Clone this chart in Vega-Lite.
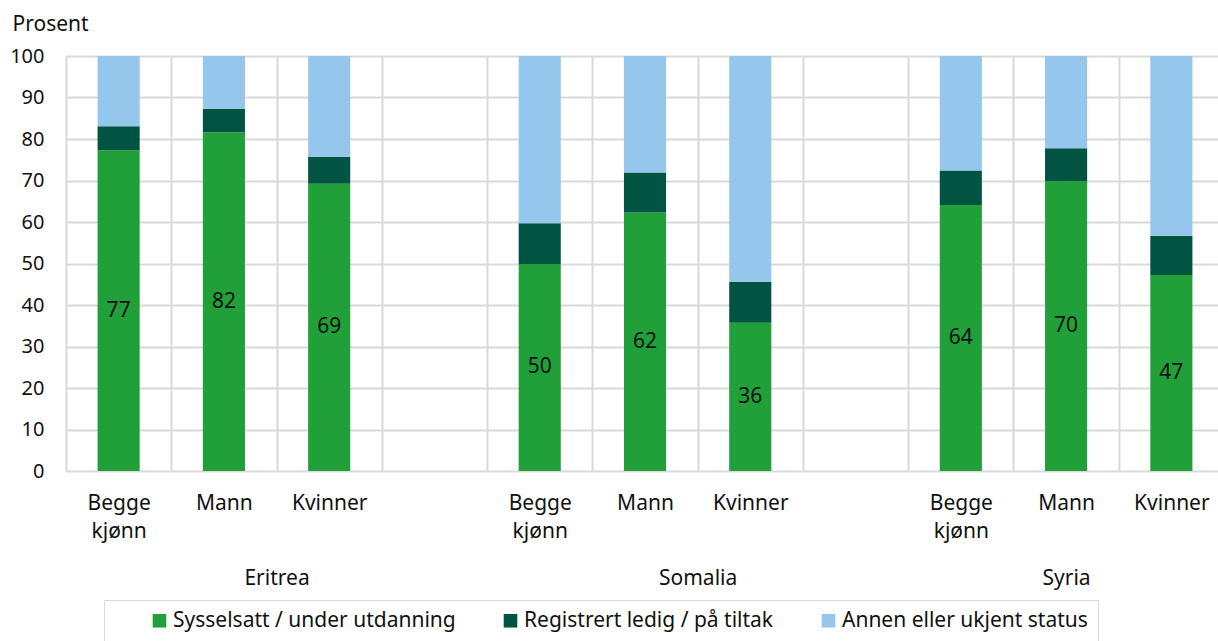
{
  "$schema": "https://vega.github.io/schema/vega-lite/v6.json",
  "width": 1152,
  "height": 415,
  "autosize": {"type": "none"},
  "padding": {"left": 66, "top": 56, "right": 0, "bottom": 170},
  "config": {
    "view": {"stroke": null},
    "font": "Noto Sans"
  },
  "data": {
    "values": [
      {"kategori": "Eritrea|Begge kjønn", "status": "Sysselsatt / under utdanning", "value": 77.3},
      {"kategori": "Eritrea|Begge kjønn", "status": "Registrert ledig / på tiltak", "value": 5.8},
      {"kategori": "Eritrea|Begge kjønn", "status": "Annen eller ukjent status", "value": 16.9},
      {"kategori": "Eritrea|Mann", "status": "Sysselsatt / under utdanning", "value": 81.6},
      {"kategori": "Eritrea|Mann", "status": "Registrert ledig / på tiltak", "value": 5.6},
      {"kategori": "Eritrea|Mann", "status": "Annen eller ukjent status", "value": 12.8},
      {"kategori": "Eritrea|Kvinner", "status": "Sysselsatt / under utdanning", "value": 69.2},
      {"kategori": "Eritrea|Kvinner", "status": "Registrert ledig / på tiltak", "value": 6.5},
      {"kategori": "Eritrea|Kvinner", "status": "Annen eller ukjent status", "value": 24.3},
      {"kategori": "Somalia|Begge kjønn", "status": "Sysselsatt / under utdanning", "value": 49.9},
      {"kategori": "Somalia|Begge kjønn", "status": "Registrert ledig / på tiltak", "value": 9.8},
      {"kategori": "Somalia|Begge kjønn", "status": "Annen eller ukjent status", "value": 40.3},
      {"kategori": "Somalia|Mann", "status": "Sysselsatt / under utdanning", "value": 62.3},
      {"kategori": "Somalia|Mann", "status": "Registrert ledig / på tiltak", "value": 9.6},
      {"kategori": "Somalia|Mann", "status": "Annen eller ukjent status", "value": 28.1},
      {"kategori": "Somalia|Kvinner", "status": "Sysselsatt / under utdanning", "value": 35.7},
      {"kategori": "Somalia|Kvinner", "status": "Registrert ledig / på tiltak", "value": 9.9},
      {"kategori": "Somalia|Kvinner", "status": "Annen eller ukjent status", "value": 54.4},
      {"kategori": "Syria|Begge kjønn", "status": "Sysselsatt / under utdanning", "value": 64.1},
      {"kategori": "Syria|Begge kjønn", "status": "Registrert ledig / på tiltak", "value": 8.3},
      {"kategori": "Syria|Begge kjønn", "status": "Annen eller ukjent status", "value": 27.6},
      {"kategori": "Syria|Mann", "status": "Sysselsatt / under utdanning", "value": 69.9},
      {"kategori": "Syria|Mann", "status": "Registrert ledig / på tiltak", "value": 7.9},
      {"kategori": "Syria|Mann", "status": "Annen eller ukjent status", "value": 22.2},
      {"kategori": "Syria|Kvinner", "status": "Sysselsatt / under utdanning", "value": 47.2},
      {"kategori": "Syria|Kvinner", "status": "Registrert ledig / på tiltak", "value": 9.5},
      {"kategori": "Syria|Kvinner", "status": "Annen eller ukjent status", "value": 43.3}
    ]
  },
  "layer": [
    {
      "mark": {"type": "bar"},
      "encoding": {
        "x": {
          "field": "kategori",
          "type": "nominal",
          "sort": null,
          "scale": {
            "domain": ["Eritrea|Begge kjønn", "Eritrea|Mann", "Eritrea|Kvinner", "gap1", "Somalia|Begge kjønn", "Somalia|Mann", "Somalia|Kvinner", "gap2", "Syria|Begge kjønn", "Syria|Mann", "Syria|Kvinner"],
            "range": [0, 1158],
            "paddingInner": 0.6,
            "paddingOuter": 0.3
          },
          "axis": {
            "orient": "bottom",
            "title": null,
            "bandPosition": 0,
            "tickOffset": -31.58,
            "labelOffset": 31.58,
            "grid": true,
            "gridColor": "#d9d9d9",
            "gridWidth": 2,
            "ticks": false,
            "domain": false,
            "labelAngle": 0,
            "labelExpr": "indexof(datum.value, 'gap') >= 0 ? '' : indexof(datum.value, 'Begge') >= 0 ? ['Begge', 'kjønn'] : split(datum.value, '|')[1]",
            "labelFontSize": 21,
            "labelColor": "#111111",
            "labelPadding": 21,
            "labelBaseline": "top",
            "labelLineHeight": 28,
            "labelOverlap": false,
            "labelBound": false
          }
        },
        "y": {
          "field": "value",
          "type": "quantitative",
          "stack": "zero",
          "scale": {"domain": [0, 100], "nice": false},
          "axis": {
            "values": [0, 10, 20, 30, 40, 50, 60, 70, 80, 90, 100],
            "title": "Prosent",
            "titleAngle": 0,
            "titleX": -54,
            "titleY": -32,
            "titleAlign": "left",
            "titleBaseline": "middle",
            "titleFontWeight": "normal",
            "titleFontSize": 21,
            "titleColor": "#111111",
            "grid": true,
            "gridColor": "#d9d9d9",
            "gridWidth": 2,
            "domain": false,
            "ticks": false,
            "labelPadding": 22,
            "labelFontSize": 20,
            "labelColor": "#111111"
          }
        },
        "color": {
          "field": "status",
          "type": "nominal",
          "scale": {
            "domain": ["Sysselsatt / under utdanning", "Registrert ledig / på tiltak", "Annen eller ukjent status"],
            "range": ["#21a039", "#005441", "#95c6eb"]
          },
          "legend": {
            "orient": "none",
            "legendX": 38,
            "legendY": 544,
            "direction": "horizontal",
            "title": null,
            "symbolType": "square",
            "symbolSize": 185,
            "symbolStrokeWidth": 0,
            "symbolOpacity": 1,
            "symbolOffset": 35,
            "labelFontSize": 21,
            "labelColor": "#111111",
            "labelOffset": 3,
            "labelLimit": 600,
            "strokeColor": "#d9d9d9",
            "padding": 10,
            "columnPadding": 9
          }
        },
        "order": {"field": "status", "sort": "descending"}
      }
    },
    {
      "transform": [{"filter": "datum.status == 'Sysselsatt / under utdanning'"}],
      "mark": {"type": "text", "fontSize": 21, "color": "#111111", "baseline": "middle", "align": "center"},
      "encoding": {
        "x": {
          "field": "kategori",
          "type": "nominal",
          "sort": null,
          "scale": {
            "domain": ["Eritrea|Begge kjønn", "Eritrea|Mann", "Eritrea|Kvinner", "gap1", "Somalia|Begge kjønn", "Somalia|Mann", "Somalia|Kvinner", "gap2", "Syria|Begge kjønn", "Syria|Mann", "Syria|Kvinner"],
            "range": [0, 1158],
            "paddingInner": 0.6,
            "paddingOuter": 0.3
          },
          "axis": {
            "orient": "bottom",
            "title": null,
            "values": ["Eritrea|Kvinner", "Somalia|Kvinner", "Syria|Mann"],
            "labelExpr": "split(datum.value, '|')[0]",
            "bandPosition": 0,
            "tickOffset": -31.58,
            "labelOffset": {"condition": {"test": "indexof(datum.value, 'Syria') >= 0", "value": 31.58}, "value": -21.05},
            "grid": false,
            "ticks": false,
            "domain": false,
            "labelAngle": 0,
            "labelPadding": 96,
            "labelBaseline": "top",
            "labelFontSize": 21,
            "labelColor": "#111111",
            "labelOverlap": false,
            "labelBound": false
          }
        },
        "y": {
          "field": "value",
          "type": "quantitative",
          "stack": null,
          "scale": {"domain": [0, 200], "nice": false},
          "axis": null
        },
        "text": {"field": "value", "type": "quantitative", "format": ".0f"}
      }
    }
  ],
  "resolve": {"scale": {"y": "independent"}, "axis": {"x": "independent"}}
}
